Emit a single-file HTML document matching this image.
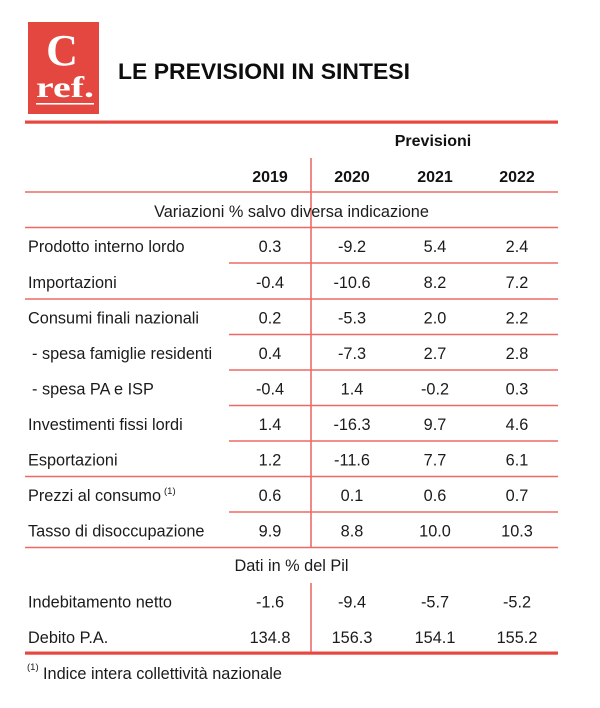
<!DOCTYPE html>
<html>
<head>
<meta charset="utf-8">
<style>
html,body{margin:0;padding:0;background:#fff;}
svg{display:block;}
.t{font-family:"Liberation Sans",sans-serif;font-size:16.3px;fill:#1b1b1b;}
.b{font-family:"Liberation Sans",sans-serif;font-size:16px;font-weight:bold;fill:#111;}
.n{font-family:"Liberation Sans",sans-serif;font-size:16.3px;fill:#1b1b1b;text-anchor:middle;}
</style>
</head>
<body>
<svg width="600" height="708" viewBox="0 0 600 708" xmlns="http://www.w3.org/2000/svg">
<!-- logo -->
<rect x="28" y="22" width="71" height="92" fill="#e4473f"/>
<text x="62" y="65" font-family="Liberation Serif,serif" font-weight="bold" font-size="44" fill="#fff" text-anchor="middle">C</text>
<text x="36" y="97" font-family="Liberation Serif,serif" font-weight="bold" font-size="30" fill="#fff" textLength="58" lengthAdjust="spacingAndGlyphs">ref.</text>
<rect x="36" y="103" width="58" height="1.6" fill="#fff"/>
<!-- title -->
<text x="118" y="79" font-family="Liberation Sans,sans-serif" font-weight="bold" font-size="22" fill="#0d0d0d" textLength="292" lengthAdjust="spacingAndGlyphs">LE PREVISIONI IN SINTESI</text>
<!-- thick lines -->
<rect x="25" y="120.5" width="533" height="3.2" fill="#e8473f"/>
<rect x="25" y="651.5" width="533" height="3.2" fill="#e8473f"/>
<!-- thin lines -->
<g stroke="#ec6a65" stroke-width="1.6">
<line x1="25" y1="192" x2="558" y2="192"/>
<line x1="25" y1="227.5" x2="558" y2="227.5"/>
<line x1="229" y1="263" x2="558" y2="263"/>
<line x1="25" y1="299" x2="558" y2="299"/>
<line x1="229" y1="334.5" x2="558" y2="334.5"/>
<line x1="229" y1="370" x2="558" y2="370"/>
<line x1="229" y1="405.5" x2="558" y2="405.5"/>
<line x1="229" y1="441" x2="558" y2="441"/>
<line x1="25" y1="476.5" x2="558" y2="476.5"/>
<line x1="229" y1="512" x2="558" y2="512"/>
<line x1="25" y1="547.5" x2="558" y2="547.5"/>
<line x1="311" y1="158" x2="311" y2="547.5"/>
<line x1="311" y1="583" x2="311" y2="652"/>
</g>
<!-- header -->
<text class="b" x="433" y="146" text-anchor="middle">Previsioni</text>
<text class="b" x="270" y="182" text-anchor="middle">2019</text>
<text class="b" x="352" y="182" text-anchor="middle">2020</text>
<text class="b" x="435" y="182" text-anchor="middle">2021</text>
<text class="b" x="517" y="182" text-anchor="middle">2022</text>
<text class="n" x="291.5" y="217">Variazioni % salvo diversa indicazione</text>
<!-- rows -->
<g>
<text class="t" x="28" y="252">Prodotto interno lordo</text>
<text class="n" x="270" y="252">0.3</text><text class="n" x="352" y="252">-9.2</text><text class="n" x="435" y="252">5.4</text><text class="n" x="517" y="252">2.4</text>

<text class="t" x="28" y="288">Importazioni</text>
<text class="n" x="270" y="288">-0.4</text><text class="n" x="352" y="288">-10.6</text><text class="n" x="435" y="288">8.2</text><text class="n" x="517" y="288">7.2</text>

<text class="t" x="28" y="323.5">Consumi finali nazionali</text>
<text class="n" x="270" y="323.5">0.2</text><text class="n" x="352" y="323.5">-5.3</text><text class="n" x="435" y="323.5">2.0</text><text class="n" x="517" y="323.5">2.2</text>

<text class="t" x="32" y="359">- spesa famiglie residenti</text>
<text class="n" x="270" y="359">0.4</text><text class="n" x="352" y="359">-7.3</text><text class="n" x="435" y="359">2.7</text><text class="n" x="517" y="359">2.8</text>

<text class="t" x="32" y="394.5">- spesa PA e ISP</text>
<text class="n" x="270" y="394.5">-0.4</text><text class="n" x="352" y="394.5">1.4</text><text class="n" x="435" y="394.5">-0.2</text><text class="n" x="517" y="394.5">0.3</text>

<text class="t" x="28" y="430">Investimenti fissi lordi</text>
<text class="n" x="270" y="430">1.4</text><text class="n" x="352" y="430">-16.3</text><text class="n" x="435" y="430">9.7</text><text class="n" x="517" y="430">4.6</text>

<text class="t" x="28" y="465.5">Esportazioni</text>
<text class="n" x="270" y="465.5">1.2</text><text class="n" x="352" y="465.5">-11.6</text><text class="n" x="435" y="465.5">7.7</text><text class="n" x="517" y="465.5">6.1</text>

<text class="t" x="28" y="501">Prezzi al consumo</text>
<text x="164" y="494" font-family="Liberation Sans,sans-serif" font-size="9.5" fill="#1b1b1b">(1)</text>
<text class="n" x="270" y="501">0.6</text><text class="n" x="352" y="501">0.1</text><text class="n" x="435" y="501">0.6</text><text class="n" x="517" y="501">0.7</text>

<text class="t" x="28" y="536.5">Tasso di disoccupazione</text>
<text class="n" x="270" y="536.5">9.9</text><text class="n" x="352" y="536.5">8.8</text><text class="n" x="435" y="536.5">10.0</text><text class="n" x="517" y="536.5">10.3</text>

<text class="n" x="291.5" y="571">Dati in % del Pil</text>

<text class="t" x="28" y="607.5">Indebitamento netto</text>
<text class="n" x="270" y="607.5">-1.6</text><text class="n" x="352" y="607.5">-9.4</text><text class="n" x="435" y="607.5">-5.7</text><text class="n" x="517" y="607.5">-5.2</text>

<text class="t" x="28" y="643">Debito P.A.</text>
<text class="n" x="270" y="643">134.8</text><text class="n" x="352" y="643">156.3</text><text class="n" x="435" y="643">154.1</text><text class="n" x="517" y="643">155.2</text>
</g>
<!-- footnote -->
<text x="27" y="670" font-family="Liberation Sans,sans-serif" font-size="9.5" fill="#1b1b1b">(1)</text>
<text class="t" x="43" y="679">Indice intera collettività nazionale</text>
</svg>
</body>
</html>
